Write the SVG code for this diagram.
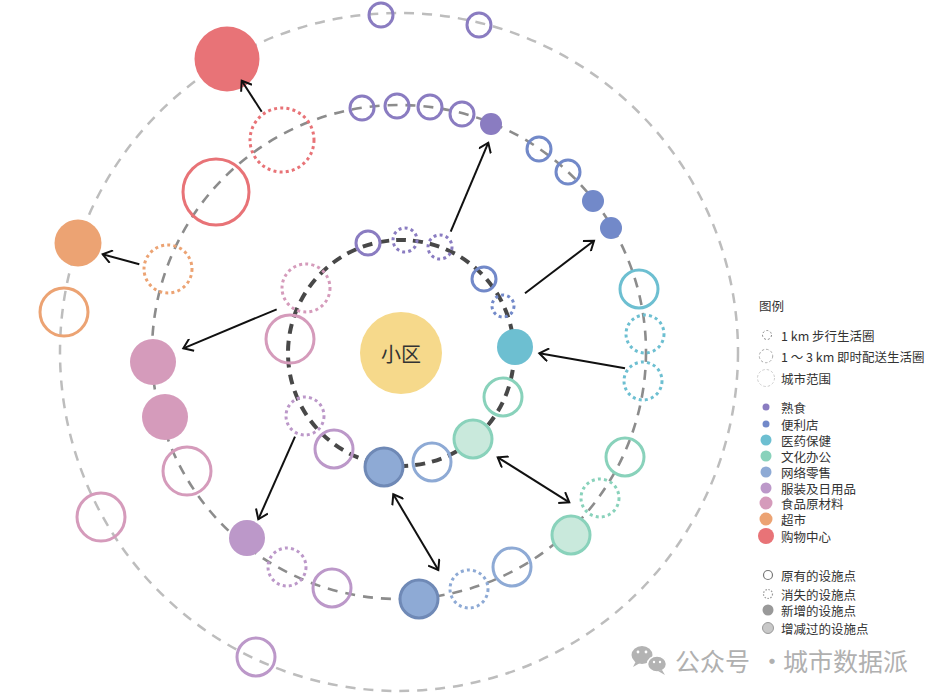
<svg xmlns="http://www.w3.org/2000/svg" width="945" height="699" viewBox="0 0 945 699">
<style>
text{font-family:"Noto Sans CJK SC","Noto Sans",sans-serif;fill:#333}
.ring-outer{fill:none;stroke:#bdbdbd;stroke-width:2.5;stroke-dasharray:10 8}
.ring-mid{fill:none;stroke:#8c8c8c;stroke-width:2.6;stroke-dasharray:10 8}
.ring-inner{fill:none;stroke:#484848;stroke-width:4;stroke-dasharray:10 7}
.o{fill:none;stroke:currentColor;stroke-width:3}
.d{fill:none;stroke:currentColor;stroke-width:3;stroke-dasharray:3 3.2}
.n{fill:currentColor;stroke:none}
.cm{fill:#c9e9dc;stroke:currentColor;stroke-width:3}
.cb{fill:#8eaad5;stroke:#6f89b6;stroke-width:3}
.k1{color:#8a7cc1}.k2{color:#7289c9}.k3{color:#6dbfd1}.k4{color:#89d2bb}.k5{color:#8eaad5}
.k6{color:#bc98c9}.k7{color:#d59bbb}.k8{color:#eca373}.k9{color:#e87377}
.arr{fill:none;stroke:#111;stroke-width:2}
.lg{font-size:12.5px;dominant-baseline:central}
.wm{font-size:25px;fill:#b0b0b0;dominant-baseline:central}
</style>
<defs>
<marker id="ah" viewBox="0 0 14 14" refX="12" refY="7" markerWidth="14" markerHeight="14" markerUnits="userSpaceOnUse" orient="auto-start-reverse">
<path d="M3,0.5 L12,7 L3,13.5" fill="none" stroke="#111" stroke-width="2"/>
</marker>
</defs>

<g id="rings">
<circle class="ring-outer" cx="399" cy="352" r="339"/>
<circle class="ring-mid" cx="399" cy="352" r="247"/>
<circle class="ring-inner" cx="401" cy="353" r="113"/>
</g>

<g id="center">
<circle cx="401" cy="353" r="41" fill="#f6d98b"/>
<text x="401" y="353" font-size="20" text-anchor="middle" dominant-baseline="central">小区</text>
</g>

<g id="inner-nodes">
<circle id="i1" class="o k1" cx="368" cy="243" r="12"/>
<circle id="i2" class="d k1" cx="405" cy="240" r="12"/>
<circle id="i3" class="d k1" cx="440" cy="247" r="12"/>
<circle id="i4" class="o k2" cx="484" cy="279" r="12"/>
<circle id="i5" class="d k2" cx="503" cy="306" r="11"/>
<circle id="i6" class="n k3" cx="515" cy="347" r="18"/>
<circle id="i7" class="o k4" cx="503" cy="397" r="19"/>
<circle id="i8" class="cm k4" cx="473" cy="439" r="19"/>
<circle id="i9" class="o k5" cx="432" cy="462" r="19"/>
<circle id="i10" class="cb" cx="384" cy="467" r="19"/>
<circle id="i11" class="o k6" cx="334" cy="449" r="19"/>
<circle id="i12" class="d k6" cx="305" cy="416" r="19"/>
<circle id="i13" class="o k7" cx="290" cy="339" r="24"/>
<circle id="i14" class="d k7" cx="306" cy="288" r="24"/>
</g>

<g id="middle-nodes">
<circle id="m1" class="o k1" cx="362" cy="108" r="12"/>
<circle id="m2" class="o k1" cx="397" cy="106" r="12"/>
<circle id="m3" class="o k1" cx="430" cy="107" r="12"/>
<circle id="m4" class="o k1" cx="462" cy="114" r="12"/>
<circle id="m5" class="n k1" cx="491" cy="124" r="11"/>
<circle id="m6" class="o k2" cx="539" cy="149" r="12"/>
<circle id="m7" class="o k2" cx="568" cy="172" r="12"/>
<circle id="m8" class="n k2" cx="593" cy="201" r="11"/>
<circle id="m9" class="n k2" cx="611" cy="228" r="11"/>
<circle id="m10" class="o k3" cx="639" cy="289" r="19"/>
<circle id="m11" class="d k3" cx="645" cy="334" r="19"/>
<circle id="m12" class="d k3" cx="643" cy="381" r="19"/>
<circle id="m13" class="o k4" cx="625" cy="457" r="19"/>
<circle id="m14" class="d k4" cx="600" cy="498" r="19"/>
<circle id="m15" class="cm k4" cx="571" cy="535" r="19"/>
<circle id="m16" class="o k5" cx="512" cy="567" r="19"/>
<circle id="m17" class="d k5" cx="469" cy="589" r="19"/>
<circle id="m18" class="cb" cx="419" cy="599" r="19"/>
<circle id="m19" class="o k6" cx="332" cy="588" r="19"/>
<circle id="m20" class="d k6" cx="287" cy="567" r="19"/>
<circle id="m21" class="n k6" cx="247" cy="538" r="18"/>
<circle id="m22" class="o k7" cx="187" cy="471" r="24"/>
<circle id="m23" class="n k7" cx="165" cy="417" r="23"/>
<circle id="m24" class="n k7" cx="153" cy="362" r="23"/>
<circle id="m25" class="d k8" cx="168" cy="269" r="24"/>
<circle id="m26" class="o k9" cx="216" cy="192" r="33"/>
<circle id="m27" class="d k9" cx="282" cy="140" r="32"/>
</g>

<g id="outer-nodes">
<circle id="o1" class="o k1" cx="381" cy="15" r="12"/>
<circle id="o2" class="o k1" cx="479" cy="25" r="12"/>
<circle id="o3" class="n k9" cx="227" cy="59" r="32.5"/>
<circle id="o4" class="n k8" cx="78" cy="243" r="23.5"/>
<circle id="o5" class="o k8" cx="64" cy="312" r="24"/>
<circle id="o6" class="o k7" cx="101" cy="517" r="24"/>
<circle id="o7" class="o k6" cx="256" cy="657" r="19"/>
</g>

<g id="connectors">
<line class="arr" x1="261.7" y1="111.7" x2="241.7" y2="80.7" marker-end="url(#ah)"/>
<line class="arr" x1="139.3" y1="264.3" x2="102.7" y2="254.3" marker-end="url(#ah)"/>
<line class="arr" x1="276.7" y1="309.3" x2="183.3" y2="348.3" marker-end="url(#ah)"/>
<line class="arr" x1="295" y1="436.7" x2="258.3" y2="519.3" marker-end="url(#ah)"/>
<line class="arr" x1="450.7" y1="231.7" x2="488.3" y2="142.7" marker-end="url(#ah)"/>
<line class="arr" x1="525" y1="293.3" x2="594" y2="240.7" marker-end="url(#ah)"/>
<line class="arr" x1="625" y1="368.3" x2="539.3" y2="353.3" marker-end="url(#ah)"/>
<line class="arr" x1="497.7" y1="457.3" x2="569.3" y2="502.3" marker-start="url(#ah)" marker-end="url(#ah)"/>
<line class="arr" x1="393.3" y1="494.3" x2="438.3" y2="570" marker-start="url(#ah)" marker-end="url(#ah)"/>
</g>

<g id="legend">
<text class="lg" x="759" y="305">图例</text>
<circle cx="767" cy="335" r="4.5" fill="none" stroke="#888" stroke-width="1" stroke-dasharray="2 2"/>
<text class="lg" x="781" y="335">1 km 步行生活圈</text>
<circle cx="766" cy="356" r="6.7" fill="none" stroke="#aaa" stroke-width="1" stroke-dasharray="2.5 2"/>
<text class="lg" x="781" y="356">1 ～ 3 km 即时配送生活圈</text>
<circle cx="766" cy="378" r="8.5" fill="none" stroke="#ccc" stroke-width="1" stroke-dasharray="2.5 2"/>
<text class="lg" x="781" y="378">城市范围</text>

<circle class="n k1" cx="766" cy="407" r="3.5"/><text class="lg" x="781" y="407">熟食</text>
<circle class="n k2" cx="766" cy="424" r="3.5"/><text class="lg" x="781" y="424">便利店</text>
<circle class="n k3" cx="766" cy="440" r="5.5"/><text class="lg" x="781" y="440">医药保健</text>
<circle class="n k4" cx="766" cy="456" r="5.5"/><text class="lg" x="781" y="456">文化办公</text>
<circle class="n k5" cx="766" cy="472" r="5.5"/><text class="lg" x="781" y="472">网络零售</text>
<circle class="n k6" cx="766" cy="488" r="5.5"/><text class="lg" x="781" y="488">服装及日用品</text>
<circle class="n k7" cx="766" cy="503" r="6.5"/><text class="lg" x="781" y="503">食品原材料</text>
<circle class="n k8" cx="766" cy="519" r="6.5"/><text class="lg" x="781" y="519">超市</text>
<circle class="n k9" cx="766" cy="536" r="8"/><text class="lg" x="781" y="536">购物中心</text>

<circle cx="768" cy="575" r="4.5" fill="#fff" stroke="#777" stroke-width="1.2"/><text class="lg" x="781" y="575">原有的设施点</text>
<circle cx="768" cy="594" r="4.5" fill="#fff" stroke="#999" stroke-width="1.2" stroke-dasharray="1.5 1.5"/><text class="lg" x="781" y="594">消失的设施点</text>
<circle cx="768" cy="610" r="5.5" fill="#999"/><text class="lg" x="781" y="610">新增的设施点</text>
<circle cx="768" cy="628" r="5.5" fill="#c8c8c8" stroke="#999" stroke-width="1"/><text class="lg" x="781" y="628">增减过的设施点</text>
</g>

<g id="watermark">
<ellipse cx="642" cy="655" rx="10.5" ry="9" fill="#b3b3b3"/>
<path d="M636,661 L633,667 L640,663 Z" fill="#b3b3b3"/>
<ellipse cx="657" cy="664" rx="9.5" ry="8" fill="#b3b3b3" stroke="#fff" stroke-width="1.5"/>
<path d="M662,670 L665,675 L658,671 Z" fill="#b3b3b3"/>
<circle cx="638" cy="652" r="1.4" fill="#fff"/><circle cx="646" cy="652" r="1.4" fill="#fff"/>
<circle cx="654" cy="662" r="1.2" fill="#fff"/><circle cx="660" cy="662" r="1.2" fill="#fff"/>
<text class="wm" x="675" y="660">公众号</text>
<text class="wm" x="772" y="660" text-anchor="middle">·</text>
<text class="wm" x="783" y="660">城市数据派</text>
</g>
</svg>
